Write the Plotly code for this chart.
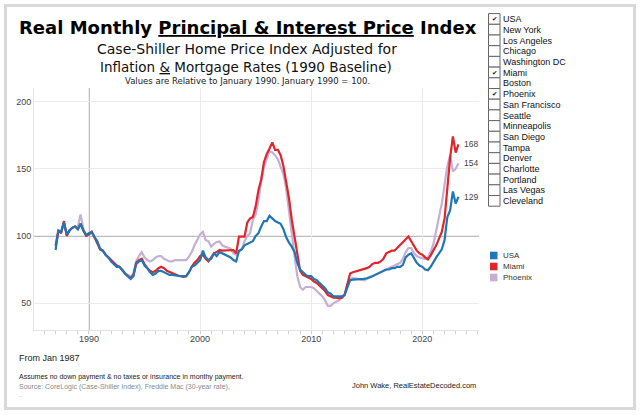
import pandas as pd
import plotly.graph_objects as go

# ---------------- data (quarterly, Jan 1987 -> Apr 2023) ----------------
start_date = "1987-01-01"
end_date = "2023-04-01"

usa = [
    89.5, 104, 103, 110,   # 1987
    101, 104, 106, 107,    # 1988
    105, 109, 104, 100.5,  # 1989
    102, 103, 99, 96,      # 1990
    90, 89, 86, 84,        # 1991
    81, 79, 77, 77,        # 1992
    74, 72, 70, 68,        # 1993
    70, 79, 81, 82,        # 1994
    78, 76, 73, 71,        # 1995
    72, 74, 74, 73,        # 1996
    72, 71, 71, 70.5,      # 1997
    70.5, 70, 70, 70,      # 1998
    73, 77, 78, 80,        # 1999
    82, 89, 84, 82,        # 2000
    83, 87, 85, 88,        # 2001
    87, 86, 85, 84,        # 2002
    82, 81, 89, 90,        # 2003
    93, 94, 95, 96,        # 2004
    100, 102, 107, 111,    # 2005
    111, 115, 113, 111,    # 2006
    110, 109, 105, 99,     # 2007
    95, 92, 88, 80,        # 2008
    75, 73, 71, 70,        # 2009
    70, 68, 67, 65,        # 2010
    63, 61, 58, 57,        # 2011
    55, 55, 54.5, 55,      # 2012
    56, 62, 67, 67.5,      # 2013
    67.5, 68, 68, 68,      # 2014
    68.5, 69, 70, 71,      # 2015
    72, 73, 74.5, 75,      # 2016
    75, 76, 76, 77,        # 2017
    77, 78.5, 84, 86,      # 2018
    87, 83, 80, 78,        # 2019
    77, 75, 74.5, 77,      # 2020
    81, 84, 87, 90,        # 2021
    97, 114, 119, 133,     # 2022
    124, 129,              # 2023
]

miami = [
    92.8, 104, 102, 111,   # 1987
    100, 104, 106, 107,    # 1988
    105, 109, 104, 100,    # 1989
    101, 103, 99, 95,      # 1990
    90, 89, 86, 84,        # 1991
    82, 80, 78, 77,        # 1992
    74, 72, 70, 68.5,      # 1993
    71, 80, 82, 83,        # 1994
    79, 76, 74, 73,        # 1995
    74, 76, 77, 76,        # 1996
    74, 73, 72, 71,        # 1997
    70.5, 70, 69.5, 70,    # 1998
    73, 77, 80, 82,        # 1999
    85, 86, 83, 81,        # 2000
    84, 87, 88, 89.5,      # 2001
    89, 89, 89.5, 89.5,    # 2002
    89.5, 87, 99.5, 99.5,  # 2003
    99.5, 110, 113, 114,   # 2004
    122, 134, 142, 155,    # 2005
    161, 165, 169.5, 164,  # 2006
    164, 160, 152, 140,    # 2007
    128, 112, 100, 88,     # 2008
    74, 71, 70, 69,        # 2009
    68, 66, 65, 63,        # 2010
    61, 59, 56, 55,        # 2011
    54, 54, 53.5, 54,      # 2012
    56, 64, 72, 73,        # 2013
    73.5, 74, 75, 75,      # 2014
    76, 77, 79, 80,        # 2015
    80, 81, 83, 87,        # 2016
    88, 89, 89, 91,        # 2017
    93, 95, 97, 99.5,      # 2018
    96, 92, 89, 87,        # 2019
    86, 84, 82.5, 85.5,    # 2020
    89, 93, 98, 103,       # 2021
    113, 135, 158, 174,    # 2022
    162, 168,              # 2023
]

phoenix = [
    92, 103, 103, 110,     # 1987
    101, 104, 106, 107,    # 1988
    107, 116, 105, 101,    # 1989
    102, 103, 99, 96,      # 1990
    91, 89, 86, 84,        # 1991
    82, 80, 78, 77,        # 1992
    75, 72, 71, 70,        # 1993
    72, 81, 85, 88,        # 1994
    84, 82, 81, 82,        # 1995
    84, 85, 85, 83,        # 1996
    82, 81, 81, 82,        # 1997
    82, 82, 82, 82,        # 1998
    84.5, 88, 93, 97,      # 1999
    101, 103, 97, 96,      # 2000
    92, 94, 95.5, 95.8,    # 2001
    93, 92, 91, 90.5,      # 2002
    87, 86, 88, 90,        # 2003
    96, 100, 102, 112,     # 2004
    116, 126, 140, 151,    # 2005
    157, 163, 162, 160,    # 2006
    157, 152, 146, 135,    # 2007
    120, 102, 85, 70,      # 2008
    62, 60, 62, 62,        # 2009
    62, 61, 59, 57,        # 2010
    55, 52, 48, 48,        # 2011
    50, 51, 52, 54,        # 2012
    56, 64, 68, 68.5,      # 2013
    68.5, 68, 67.5, 67,    # 2014
    68, 69, 70, 71,        # 2015
    72, 73, 74.5, 75,      # 2016
    76, 77, 78, 79,        # 2017
    80, 83, 88, 91,        # 2018
    91, 87, 85, 84,        # 2019
    83.5, 83, 84, 88,      # 2020
    94, 105, 114, 124,     # 2021
    140, 152, 160, 148,    # 2022
    150, 154,              # 2023
]

series_names = ["USA", "Miami", "Phoenix"]
series_colors = ["#1f77b4", "#e0252b", "#c5b0d5"]

city_list = ["USA", "New York", "Los Angeles", "Chicago", "Washington DC",
             "Miami", "Boston", "Phoenix", "San Francisco", "Seattle",
             "Minneapolis", "San Diego", "Tampa", "Denver", "Charlotte",
             "Portland", "Las Vegas", "Cleveland"]

y_ticks = [50, 100, 150, 200]
x_ticks = ["1990-01-01", "2000-01-01", "2010-01-01", "2020-01-01"]
x_tick_labels = ["1990", "2000", "2010", "2020"]

dates = pd.date_range(start_date, end_date, freq="QS")
values = {"USA": usa, "Miami": miami, "Phoenix": phoenix}

# ---------------- layout helpers ----------------
W, H = 640, 415
PL, PR, PT, PB = 34, 479, 88, 330


def px(x):
    return (x - PL) / (PR - PL)


def py(y):
    return (PB - y) / (PB - PT)


fig = go.Figure()

# draw order: Phoenix (bottom), Miami, USA (top)
for name in ["Phoenix", "Miami", "USA"]:
    col = series_colors[series_names.index(name)]
    fig.add_trace(go.Scatter(
        x=dates, y=values[name], mode="lines", name=name,
        line=dict(color=col, width=2.2), showlegend=False,
        hovertemplate="%{x|%b %Y}: %{y}<extra>" + name + "</extra>"))

annotations = []
shapes = []

# end labels
for name in series_names:
    v = values[name]
    annotations.append(dict(
        x=dates[-1], y=v[-1], xref="x", yref="y", text=f"{round(v[-1])}",
        showarrow=False, xanchor="left", yanchor="middle", xshift=4,
        font=dict(family="Liberation Sans, Arial", size=8.5, color="#444")))

# reference lines
shapes.append(dict(type="line", xref="paper", yref="y", x0=0, x1=1, y0=100, y1=100,
                   line=dict(color="#a8a8a8", width=1.5), layer="below"))
shapes.append(dict(type="line", xref="x", yref="paper", x0="1990-01-01", x1="1990-01-01",
                   y0=0, y1=1, line=dict(color="#a8a8a8", width=1.5), layer="below"))

# outer frame
shapes.append(dict(type="rect", xref="paper", yref="paper",
                   x0=px(5.5), x1=px(634.5), y0=py(408.5), y1=py(5.5),
                   line=dict(color="#d9d9d9", width=3), layer="below"))

# titles
annotations.append(dict(
    x=px(248), y=py(28), xref="paper", yref="paper", showarrow=False,
    xanchor="center", yanchor="middle",
    text="Real Monthly <u>Principal &amp; Interest Price</u> Index",
    font=dict(family="DejaVu Sans", size=18, color="#000000", weight="bold")))
annotations.append(dict(
    x=px(247), y=py(49), xref="paper", yref="paper", showarrow=False,
    xanchor="center", yanchor="middle",
    text="Case-Shiller Home Price Index Adjusted for",
    font=dict(family="DejaVu Sans", size=14, color="#111111")))
annotations.append(dict(
    x=px(246), y=py(67), xref="paper", yref="paper", showarrow=False,
    xanchor="center", yanchor="middle",
    text="Inflation <u>&amp;</u> Mortgage Rates (1990 Baseline)",
    font=dict(family="DejaVu Sans", size=13.5, color="#111111")))
annotations.append(dict(
    x=px(247), y=py(81), xref="paper", yref="paper", showarrow=False,
    xanchor="center", yanchor="middle",
    text="Values are Relative to January 1990. January 1990 = 100.",
    font=dict(family="DejaVu Sans", size=8.5, color="#222222")))

# checkbox list
row_h = 10.7
top0 = 13.6
checked = set(series_names)
for i, city in enumerate(city_list):
    y0 = top0 + i * row_h
    shapes.append(dict(type="rect", xref="paper", yref="paper",
                       x0=px(488.5), x1=px(500), y0=py(y0 + row_h), y1=py(y0),
                       line=dict(color="#666666", width=1), fillcolor="white"))
    annotations.append(dict(
        x=px(501), y=py(y0 + row_h / 2 + 0.3), xref="paper", yref="paper", showarrow=False,
        xanchor="left", yanchor="middle", text=city,
        font=dict(family="Liberation Sans, Arial", size=9, color="#111111")))
    if city in checked:
        annotations.append(dict(
            x=px(494), y=py(y0 + row_h / 2 + 0.5), xref="paper", yref="paper", showarrow=False,
            xanchor="center", yanchor="middle", text="✔",
            font=dict(family="DejaVu Sans", size=6.5, color="#111111")))

# colour legend
leg_y = [255.5, 266.5, 277.5]
for name, col, yy in zip(series_names, series_colors, leg_y):
    shapes.append(dict(type="rect", xref="paper", yref="paper",
                       x0=px(490), x1=px(497.5), y0=py(yy + 3.8), y1=py(yy - 3.8),
                       line=dict(width=0), fillcolor=col))
    annotations.append(dict(
        x=px(501), y=py(yy), xref="paper", yref="paper", showarrow=False,
        xanchor="left", yanchor="middle", text=name,
        font=dict(family="Liberation Sans, Arial", size=8, color="#333333")))

# footer notes
annotations.append(dict(
    x=px(17), y=py(358), xref="paper", yref="paper", showarrow=False,
    xanchor="left", yanchor="middle", text="From Jan 1987",
    font=dict(family="Liberation Sans, Arial", size=9, color="#222222")))
annotations.append(dict(
    x=px(17), y=py(377), xref="paper", yref="paper", showarrow=False,
    xanchor="left", yanchor="middle",
    text="Assumes no down payment &amp; no taxes or insurance in monthy payment.",
    font=dict(family="Liberation Sans, Arial", size=7, color="#222222")))
annotations.append(dict(
    x=px(17), y=py(387), xref="paper", yref="paper", showarrow=False,
    xanchor="left", yanchor="middle",
    text="Source: CoreLogic (Case-Shiller Index), Freddie Mac (30-year rate),",
    font=dict(family="Liberation Sans, Arial", size=7, color="#8a8a8a")))
annotations.append(dict(
    x=px(17), y=py(395), xref="paper", yref="paper", showarrow=False,
    xanchor="left", yanchor="middle", text="..",
    font=dict(family="Liberation Sans, Arial", size=6, color="#8a8a8a")))
annotations.append(dict(
    x=px(478), y=py(385), xref="paper", yref="paper", showarrow=False,
    xanchor="right", yanchor="middle", text="John Wake, RealEstateDecoded.com",
    font=dict(family="Liberation Sans, Arial", size=7.5, color="#222222")))

fig.update_layout(
    width=W, height=H,
    margin=dict(l=PL, r=W - PR, t=PT, b=H - PB, pad=0),
    paper_bgcolor="white", plot_bgcolor="white",
    showlegend=False,
    annotations=annotations, shapes=shapes,
    xaxis=dict(
        type="date", range=["1985-01-20", "2025-02-05"],
        tickvals=x_ticks, ticktext=x_tick_labels,
        showgrid=True, gridcolor="#ececec", gridwidth=1,
        showline=True, linecolor="#e4e4e4", linewidth=1,
        ticks="", zeroline=False,
        tickfont=dict(family="Liberation Sans, Arial", size=9, color="#444444"),
        minor=dict(dtick="M12", tick0="1985-01-01", ticks="outside", ticklen=3,
                   tickcolor="#cfcfcf", showgrid=False),
    ),
    yaxis=dict(
        range=[30, 210], tickvals=y_ticks,
        showgrid=True, gridcolor="#ececec", gridwidth=1,
        showline=True, linecolor="#e4e4e4", linewidth=1,
        ticks="", zeroline=False,
        tickfont=dict(family="Liberation Sans, Arial", size=9, color="#444444"),
    ),
)

fig.write_html("out.html", config={"displayModeBar": False},
               post_script="document.body.style.margin='0';")
